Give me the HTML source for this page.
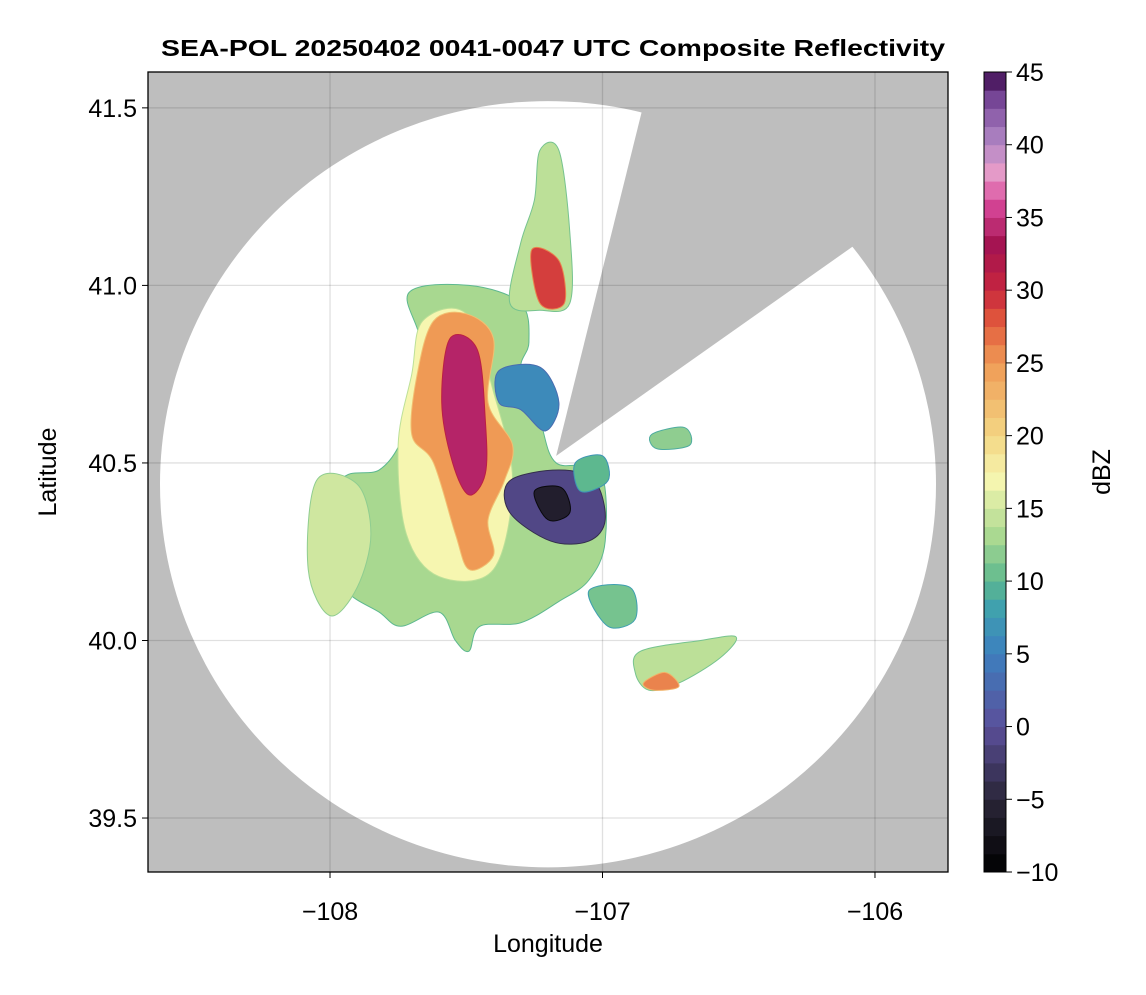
<!DOCTYPE html>
<html><head><meta charset="utf-8"><style>
body{margin:0;background:#fff;font-family:"Liberation Sans",sans-serif}
</style></head><body>
<svg id="chart" width="1146" height="990" xmlns="http://www.w3.org/2000/svg" font-family="Liberation Sans, sans-serif">
<rect width="1146" height="990" fill="#fff"/>
<text x="553" y="56" text-anchor="middle" font-size="23" font-weight="bold" textLength="784" lengthAdjust="spacingAndGlyphs">SEA-POL 20250402 0041-0047 UTC Composite Reflectivity</text>
<defs><clipPath id="plotclip"><rect x="148" y="72" width="800" height="800"/></clipPath></defs>
<g id="plot" clip-path="url(#plotclip)"></g>
<rect x="148" y="72" width="800" height="800" fill="none" stroke="#000" stroke-width="1.3"/>
<g id="axes"></g>
<g id="cbar"></g>
<text x="548" y="952" text-anchor="middle" font-size="25">Longitude</text>
<text transform="translate(56,472) rotate(-90)" text-anchor="middle" font-size="25">Latitude</text>
<text transform="translate(1110,472) rotate(-90)" text-anchor="middle" font-size="25">dBZ</text>
</svg>
<script>
const xTicks=[-108,-107,-106];
const yTicks=[39.5,40.0,40.5,41.0,41.5];
const cbTicks=[-10,-5,0,5,10,15,20,25,30,35,40,45];
const cbStops=[-10,-5,0,5,8,10,13,17,20,25,28,30,33,36,38,40,43,45];
const cbColors=["#000000","#2a2638","#5b4f9a","#3d7fbf","#3e9fb0","#5db88f","#a8d890","#f6f6b0","#f4d784","#ef9a55","#e0553c","#c7263e","#a3124f","#d8489a","#e79bc8","#b48ac7","#7a4a9b","#3d0a4e"];
const radarCenter=[-107.20,40.44];
const radarRadius=[1.424,1.079];
const wedge=[[-107.17,40.52],[-106.82,41.60],[-105.73,41.60],[-105.73,41.30]];
const echoes=[
 {dbz:13,pts:[[-107.71,40.98],[-107.49,41.0],[-107.30,40.95],[-107.27,40.84],[-107.30,40.76],[-107.23,40.62],[-107.17,40.50],[-107.01,40.48],[-106.99,40.28],[-107.05,40.17],[-107.16,40.11],[-107.30,40.05],[-107.45,40.04],[-107.49,39.97],[-107.54,40.0],[-107.60,40.08],[-107.74,40.04],[-107.82,40.08],[-107.94,40.14],[-108.0,40.25],[-107.96,40.45],[-107.82,40.48],[-107.74,40.56],[-107.71,40.67],[-107.67,40.84]]},
 {dbz:15,pts:[[-108.05,40.45],[-107.9,40.44],[-107.85,40.3],[-107.9,40.15],[-108.0,40.07],[-108.08,40.2]]},
 {dbz:17,pts:[[-107.66,40.9],[-107.5,40.92],[-107.4,40.7],[-107.33,40.45],[-107.4,40.2],[-107.6,40.18],[-107.72,40.3],[-107.75,40.55],[-107.7,40.75]]},
 {dbz:25,pts:[[-107.62,40.9],[-107.5,40.92],[-107.4,40.85],[-107.42,40.67],[-107.33,40.55],[-107.36,40.45],[-107.42,40.34],[-107.40,40.24],[-107.49,40.2],[-107.54,40.3],[-107.62,40.5],[-107.70,40.58],[-107.68,40.75]]},
 {dbz:34,pts:[[-107.56,40.85],[-107.46,40.82],[-107.43,40.62],[-107.43,40.47],[-107.49,40.41],[-107.55,40.5],[-107.59,40.67]]},
 {dbz:6,pts:[[-107.38,40.76],[-107.23,40.77],[-107.16,40.67],[-107.21,40.59],[-107.30,40.65],[-107.38,40.67]]},
 {dbz:-1,pts:[[-107.34,40.45],[-107.16,40.48],[-107.03,40.45],[-106.99,40.34],[-107.05,40.28],[-107.19,40.28],[-107.34,40.36]]},
 {dbz:-6,pts:[[-107.25,40.42],[-107.15,40.43],[-107.12,40.36],[-107.2,40.34]]},
 {dbz:14,pts:[[-107.23,41.38],[-107.16,41.38],[-107.12,41.15],[-107.12,40.95],[-107.23,40.93],[-107.34,40.95],[-107.30,41.12],[-107.25,41.24]]},
 {dbz:29,pts:[[-107.26,41.1],[-107.16,41.07],[-107.14,40.95],[-107.23,40.95]]},
 {dbz:14,pts:[[-106.86,39.97],[-106.64,40.0],[-106.51,40.01],[-106.57,39.95],[-106.72,39.88],[-106.83,39.86],[-106.88,39.91]]},
 {dbz:26,pts:[[-106.85,39.88],[-106.77,39.91],[-106.72,39.87],[-106.81,39.86]]},
 {dbz:11,pts:[[-107.05,40.14],[-106.9,40.15],[-106.88,40.06],[-106.98,40.04]]},
 {dbz:10,pts:[[-107.1,40.5],[-107.0,40.52],[-106.98,40.45],[-107.08,40.42]]},
 {dbz:12,pts:[[-106.82,40.58],[-106.7,40.6],[-106.68,40.55],[-106.8,40.54]]}
];
const X0=148,X1=948,Y0=72,Y1=872,LON0=-108.668,LON1=-105.732,LAT0=39.348,LAT1=41.601;
const sx=v=>X0+(v-LON0)/(LON1-LON0)*(X1-X0);
const sy=v=>Y1-(v-LAT0)/(LAT1-LAT0)*(Y1-Y0);
const ns="http://www.w3.org/2000/svg";
function mk(t,a,p){const e=document.createElementNS(ns,t);for(const k in a)e.setAttribute(k,a[k]);p.appendChild(e);return e;}
function hex(c){return [1,3,5].map(i=>parseInt(c.substr(i,2),16));}
function cmap(v){for(let i=0;i<cbStops.length-1;i++){if(v<=cbStops[i+1]){const t=(v-cbStops[i])/(cbStops[i+1]-cbStops[i]);const a=hex(cbColors[i]),b=hex(cbColors[i+1]);return "rgb("+a.map((x,j)=>Math.round(x+(b[j]-x)*t)).join(",")+")";}}return cbColors[cbColors.length-1];}
function smooth(pts){const p=pts.map(q=>[sx(q[0]),sy(q[1])]);const n=p.length;let d="M"+p[0][0]+","+p[0][1];for(let i=0;i<n;i++){const p0=p[(i-1+n)%n],p1=p[i],p2=p[(i+1)%n],p3=p[(i+2)%n];d+="C"+(p1[0]+(p2[0]-p0[0])/6)+","+(p1[1]+(p2[1]-p0[1])/6)+" "+(p2[0]-(p3[0]-p1[0])/6)+","+(p2[1]-(p3[1]-p1[1])/6)+" "+p2[0]+","+p2[1];}return d+"Z";}
const plot=document.getElementById("plot");
const bg=mk("rect",{x:X0,y:Y0,width:800,height:800,fill:"#bebebe"},plot);


const cx=sx(radarCenter[0]),cy=sy(radarCenter[1]);
const circ=mk("ellipse",{cx:cx,cy:cy,rx:sx(radarCenter[0]+radarRadius[0])-cx,ry:cy-sy(radarCenter[1]+radarRadius[1]),fill:"#fff"},plot);


const wg=mk("polygon",{points:wedge.map(q=>sx(q[0])+","+sy(q[1])).join(" "),fill:"#bebebe"},plot);


xTicks.forEach(t=>{const l=mk("line",{x1:sx(t),x2:sx(t),y1:Y0,y2:Y1,stroke:"#000","stroke-opacity":0.12,"stroke-width":1.3},plot);});
yTicks.forEach(t=>{const l=mk("line",{y1:sy(t),y2:sy(t),x1:X0,x2:X1,stroke:"#000","stroke-opacity":0.12,"stroke-width":1.3},plot);});
echoes.forEach(e=>{const p=mk("path",{d:smooth(e.pts),fill:cmap(e.dbz),stroke:cmap(e.dbz-3),"stroke-width":1},plot);});
const ax=document.getElementById("axes");
xTicks.forEach(t=>{mk("line",{x1:sx(t),x2:sx(t),y1:Y1,y2:Y1+6,stroke:"#000"},ax);const tx=mk("text",{x:sx(t),y:Y1+48,"text-anchor":"middle","font-size":25},ax);tx.textContent="\u2212"+Math.abs(t);});
yTicks.forEach(t=>{mk("line",{x1:X0-6,x2:X0,y1:sy(t),y2:sy(t),stroke:"#000"},ax);const tx=mk("text",{x:X0-11,y:sy(t)+9,"text-anchor":"end","font-size":25},ax);tx.textContent=t.toFixed(1);});
const cb=document.getElementById("cbar");
const CX=984,CW=22,cby=v=>Y1-(v+10)/55*800;
for(let v=-10;v<45;v+=1.25){const r=mk("rect",{x:CX,y:cby(v+1.25),width:CW,height:cby(v)-cby(v+1.25)+0.5,fill:cmap(v+0.625)},cb);}
mk("rect",{x:CX,y:Y0,width:CW,height:800,fill:"none",stroke:"#000","stroke-width":1},cb);
cbTicks.forEach(t=>{mk("line",{x1:CX+CW,x2:CX+CW+6,y1:cby(t),y2:cby(t),stroke:"#000"},cb);const tx=mk("text",{x:CX+CW+10,y:cby(t)+9,"font-size":25},cb);tx.textContent=t<0?"\u2212"+Math.abs(t):t;});
</script>
</body></html>
